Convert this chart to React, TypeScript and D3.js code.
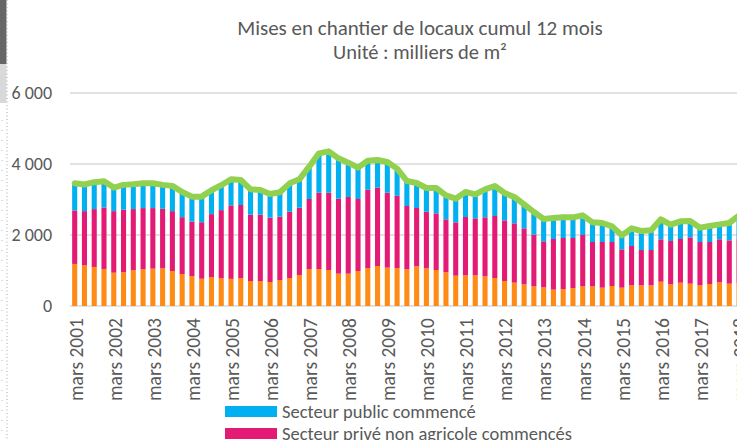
import React from "react";
import * as d3 from "d3";

const years = [2001, 2002, 2003, 2004, 2005, 2006, 2007, 2008, 2009, 2010, 2011, 2012, 2013, 2014, 2015, 2016, 2017, 2018];
const months = ["mars", "juin", "sept.", "déc."];

// Secteur agricole (orange)
const agricole = [
  1185, 1147, 1100, 1043, 938, 948, 1005, 1033, 1052, 1062, 986, 900, 844, 768, 815, 787,
  765, 789, 704, 704, 676, 732, 789, 873, 1042, 1042, 1014, 911, 911, 986, 1070, 1127,
  1080, 1066, 1033, 1117, 1061, 1014, 948, 854, 864, 864, 836, 789, 704, 657, 610, 554,
  526, 460, 475, 507, 554, 554, 516, 563, 516, 582, 582, 582, 685, 610, 657, 629,
  582, 620, 667, 629, 650,
];
// Secteur privé non agricole commencés (pink)
const prive = [
  1507, 1526, 1630, 1734, 1735, 1763, 1725, 1725, 1706, 1677, 1687, 1602, 1535, 1592, 1773, 1914,
  2070, 2056, 1869, 1869, 1812, 1784, 1868, 1897, 1972, 2150, 2178, 2112, 2159, 2028, 2207, 2206,
  2112, 2038, 1784, 1644, 1596, 1596, 1493, 1503, 1643, 1605, 1662, 1746, 1709, 1672, 1578, 1455,
  1296, 1427, 1440, 1408, 1446, 1249, 1287, 1240, 1080, 1108, 995, 995, 1193, 1221, 1230, 1305,
  1221, 1183, 1211, 1221, 1250,
];
// Secteur public commencé (blue)
const publicS = [
  768, 749, 758, 740, 663, 701, 701, 702, 702, 673, 711, 711, 702, 721, 673, 702,
  735, 704, 713, 695, 667, 686, 798, 798, 911, 1108, 1165, 1137, 968, 883, 817, 780,
  864, 766, 704, 704, 667, 714, 676, 666, 704, 677, 788, 845, 770, 741, 676, 639,
  629, 592, 585, 583, 554, 554, 535, 441, 395, 498, 536, 554, 563, 460, 498, 460,
  404, 451, 422, 488, 650,
];
const yTicks = [0, 2000, 4000, 6000];

const seriesKeys = ["agricole", "prive", "public"];
const colors: Record<string, string> = {
  agricole: "#fd8b16",
  prive: "#e41b74",
  public: "#00b0f0",
};

const quarters: string[] = [];
years.forEach((y) => months.forEach((m) => quarters.push(`${m} ${y}`)));
const rows = agricole.map((a, i) => ({
  cat: quarters[i],
  agricole: a,
  prive: prive[i],
  public: publicS[i],
}));

const W = 737;
const H = 440;
const FONT = "Carlito, Calibri, Lato, 'Open Sans', sans-serif";
const TEXT = "#595959";

export default function App() {
  const n = rows.length;
  const step = 9.77;
  const x0 = 69.8;
  const x = d3
    .scaleBand<string>()
    .domain(rows.map((r) => r.cat))
    .range([x0, x0 + n * step])
    .paddingInner(0.48)
    .paddingOuter(0.24);
  const y = d3.scaleLinear().domain([0, 6000]).range([306, 93]);
  const stack = d3.stack<any>().keys(seriesKeys)(rows);
  const totals = rows.map((r) => r.agricole + r.prive + r.public);
  const cx = (c: string) => (x(c) as number) + x.bandwidth() / 2;
  const line = d3
    .line<number>()
    .x((_, i) => cx(rows[i].cat))
    .y((d) => y(d))
    .curve(d3.curveLinear);

  return (
    <svg
      width={W}
      height={H}
      style={{ position: "absolute", left: 0, top: 0, background: "#fff" }}
      fontFamily={FONT}
    >
      <rect x={0} y={0} width={W} height={H} fill="#fff" />
      {/* left decoration */}
      <rect x={0} y={0} width={6.5} height={64} fill="#666" />
      <rect x={0} y={64} width={6.5} height={39} fill="#d9d9d9" />
      <line x1={7} y1={0} x2={7} y2={H} stroke="#9aa6c0" strokeWidth={1} strokeDasharray="1 2.5" />
      <line x1={2} y1={120} x2={2} y2={H} stroke="#b4bdd0" strokeWidth={1} strokeDasharray="1 9" />

      {/* title */}
      <text x={420} y={35} textAnchor="middle" fontSize={21} fill={TEXT}>
        Mises en chantier de locaux cumul 12 mois
      </text>
      <text x={420} y={59} textAnchor="middle" fontSize={20.5} fill={TEXT}>
        Unité : milliers de m²
      </text>

      {/* grid */}
      {yTicks.map((t) => (
        <g key={t}>
          <line x1={70} x2={W} y1={y(t)} y2={y(t)} stroke="#d9d9d9" strokeWidth={1.5} />
          <text x={52} y={y(t)} dy="0.35em" textAnchor="end" fontSize={18} fill={TEXT}>
            {d3.format(",")(t).replace(/,/g, " ")}
          </text>
        </g>
      ))}

      {/* bars */}
      {stack.map((s) => (
        <g key={s.key} fill={colors[s.key]}>
          {s.map((d, i) => (
            <rect
              key={i}
              x={x(rows[i].cat)}
              width={x.bandwidth()}
              y={y(d[1])}
              height={y(d[0]) - y(d[1])}
            />
          ))}
        </g>
      ))}

      {/* total line */}
      <path
        d={line(totals) || ""}
        fill="none"
        stroke="#92d050"
        strokeWidth={6}
        strokeLinejoin="round"
        strokeLinecap="round"
      />

      {/* x labels */}
      {rows.map((r, i) =>
        i % 4 === 0 ? (
          <text
            key={r.cat}
            transform={`translate(${cx(r.cat) + 1},318) rotate(-90)`}
            textAnchor="end"
            dy="0.35em"
            fontSize={19.5}
            fill={TEXT}
          >
            {r.cat}
          </text>
        ) : null
      )}

      {/* legend */}
      <rect x={225} y={406} width={52} height={11} fill={colors.public} />
      <text x={282} y={412} dy="0.35em" fontSize={18.5} fill={TEXT}>
        Secteur public commencé
      </text>
      <rect x={225} y={428} width={52} height={11} fill={colors.prive} />
      <text x={282} y={434} dy="0.35em" fontSize={18.5} fill={TEXT}>
        Secteur privé non agricole commencés
      </text>
    </svg>
  );
}
